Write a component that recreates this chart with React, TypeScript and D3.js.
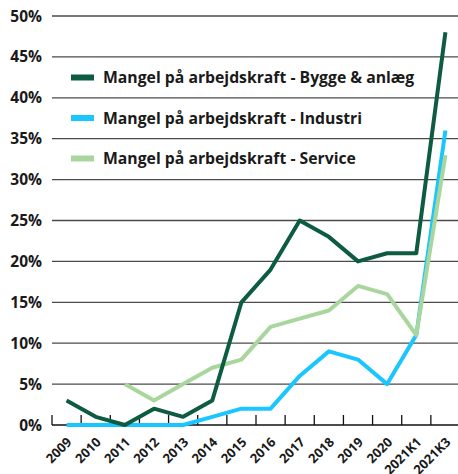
import React from "react";
import * as d3 from "d3";

const categories = ["2009","2010","2011","2012","2013","2014","2015","2016","2017","2018","2019","2020","2021K1","2021K3"];
const bygge: (number | null)[] = [3,1,0,2,1,3,15,19,25,23,20,21,21,48];
const industri: (number | null)[] = [0,0,0,0,0,1,2,2,6,9,8,5,11,36];
const service: (number | null)[] = [null,null,5,3,5,7,8,12,13,14,17,16,11,33];
const yTicks = [0,5,10,15,20,25,30,35,40,45,50];

const seriesNames = [
  "Mangel på arbejdskraft - Bygge & anlæg",
  "Mangel på arbejdskraft - Industri",
  "Mangel på arbejdskraft - Service",
];
const colors = ["#0d5c42", "#1ac6ff", "#a8d69c"];

const W = 458, H = 474;
const left = 52, right = 460, top = 16, bottom = 425;
const FONT = "'Open Sans', sans-serif";

export default function App() {
  const x = d3.scaleBand<string>().domain(categories).range([left, right]);
  const y = d3.scaleLinear().domain([0, 50]).range([bottom, top]);
  const cx = (c: string) => (x(c) as number) + x.bandwidth() / 2;

  const mk = (vals: (number | null)[]) =>
    d3.line<number | null>()
      .defined((d) => d !== null)
      .x((_, i) => cx(categories[i]))
      .y((d) => y(d as number))(vals) as string;

  const series = [bygge, industri, service];
  const drawOrder = [1, 2, 0];
  const boundaries = categories.map((c) => x(c) as number);

  return (
    <svg width={W} height={H} style={{ position: "absolute", left: 0, top: 0, background: "#fff" }}
      fontFamily={FONT} fontWeight={700}>
      {yTicks.filter((t) => t > 0).map((t) => (
        <line key={t} x1={left} x2={W} y1={y(t)} y2={y(t)} stroke="#4a4a4a" strokeWidth={1.3} />
      ))}
      {yTicks.map((t) => (
        <text key={"l" + t} x={42} y={y(t)} dy="0.36em" textAnchor="end" fontSize={15.5} fill="#1a1a1a">
          {t}%
        </text>
      ))}
      <line x1={left} x2={W} y1={bottom} y2={bottom} stroke="#111" strokeWidth={1.5} />
      {boundaries.map((b, i) => (
        <line key={"t" + i} x1={b} x2={b} y1={bottom - 10} y2={bottom} stroke="#111" strokeWidth={1.3} />
      ))}
      {categories.map((c) => (
        <text key={"x" + c} transform={`translate(${cx(c) - 0.4},${bottom + 11.5}) rotate(-45)`}
          textAnchor="end" dy="0.7em" fontSize={13} fill="#1a1a1a">
          {c}
        </text>
      ))}
      {drawOrder.map((si) => (
        <path key={"s" + si} d={mk(series[si])} fill="none" stroke={colors[si]} strokeWidth={4}
          strokeLinejoin="round" />
      ))}
      {seriesNames.map((n, i) => (
        <g key={"lg" + i} transform={`translate(71,${77.5 + i * 40.5})`}>
          <rect x={0} y={-3} width={23} height={6} fill={colors[i]} />
          <text x={32} y={0} dy="0.36em" fontSize={15.75} fill="#1a1a1a">{n}</text>
        </g>
      ))}
    </svg>
  );
}
